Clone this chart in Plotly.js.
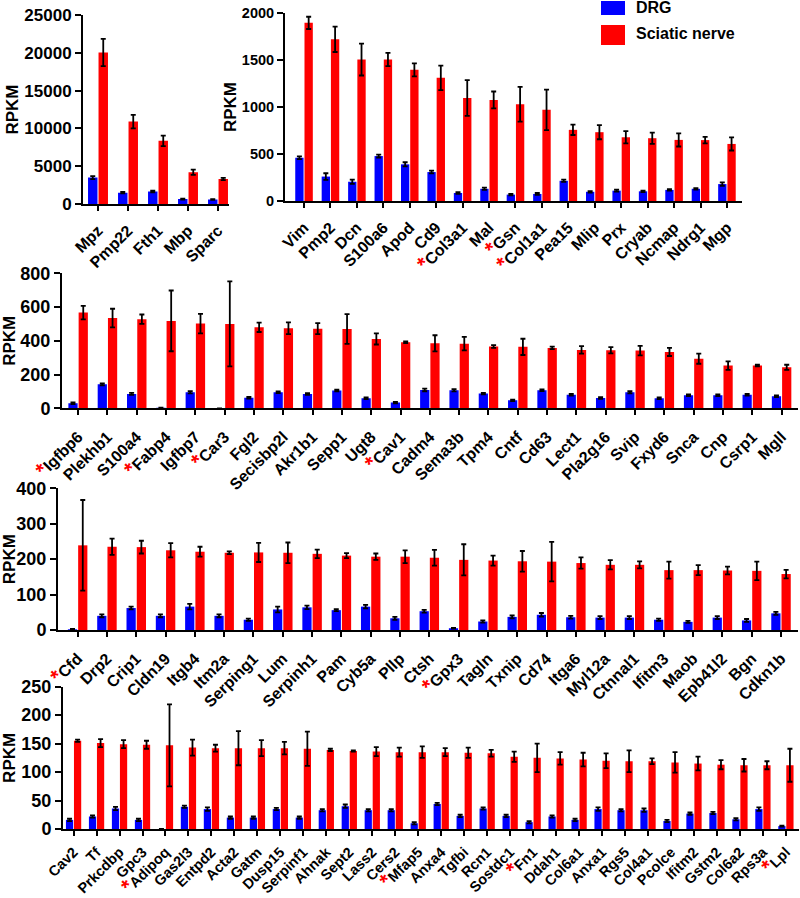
<!DOCTYPE html>
<html><head><meta charset="utf-8">
<script src="https://cdn.plot.ly/plotly-3.0.1.min.js"></script>
<style>html,body{margin:0;padding:0;background:#fff}</style>
</head><body><div id="chart" style="width:800px;height:898px"></div>
<script>
// ---------- data ----------
const seriesNames = ['DRG', 'Sciatic nerve'];
const starred = ['Col3a1','Gsn','Col1a1','Igfbp6','Fabp4','Car3','Cav1','Cfd','Gpx3','Adipoq','Mfap5','Fn1','Lpl'];

const genes1 = ['Mpz','Pmp22','Fth1','Mbp','Sparc'];
const drg1 = [3500, 1500, 1650, 650, 600];
const drgErr1 = [200, 100, 100, 60, 50];
const sn1 = [20050, 10900, 8350, 4200, 3300];
const snErr1 = [1800, 900, 700, 350, 150];

const genes2 = ['Vim','Pmp2','Dcn','S100a6','Apod','Cd9','Col3a1','Mal','Gsn','Col1a1','Pea15','Mlip','Prx','Cryab','Ncmap','Ndrg1','Mgp'];
const drg2 = [460, 260, 205, 478, 390, 308, 85, 130, 68, 75, 215, 98, 110, 103, 118, 130, 180];
const drgErr2 = [15, 35, 22, 15, 22, 15, 10, 12, 8, 10, 12, 8, 10, 8, 8, 8, 18];
const sn2 = [1895, 1720, 1505, 1505, 1395, 1310, 1095, 1075, 1030, 970, 757, 732, 678, 668, 650, 648, 607];
const snErr2 = [65, 135, 170, 70, 70, 130, 190, 90, 185, 215, 55, 75, 65, 60, 70, 35, 70];

const genes3 = ['Igfbp6','Plekhb1','S100a4','Fabp4','Igfbp7','Car3','Fgl2','Secisbp2l','Akr1b1','Sepp1','Ugt8','Cav1','Cadm4','Sema3b','Tpm4','Cntf','Cd63','Lect1','Pla2g16','Svip','Fxyd6','Snca','Cnp','Csrp1','Mgll'];
const drg3 = [30, 142, 85, 3, 95, 0, 63, 95, 85, 105, 59, 34, 109, 107, 87, 47, 107, 81, 61, 95, 59, 77, 77, 81, 71];
const drgErr3 = [5, 6, 6, 1, 7, 0, 5, 5, 5, 5, 5, 4, 8, 7, 5, 4, 5, 5, 5, 6, 5, 5, 5, 5, 5];
const sn3 = [567, 535, 528, 518, 502, 500, 480, 474, 472, 470, 411, 391, 385, 383, 366, 364, 358, 346, 344, 342, 334, 294, 253, 253, 243];
const snErr3 = [40, 55, 28, 180, 58, 252, 28, 35, 33, 88, 33, 5, 48, 40, 8, 48, 7, 22, 18, 28, 24, 30, 25, 5, 15];

const genes4 = ['Cfd','Drp2','Crip1','Cldn19','Itgb4','Itm2a','Serping1','Lum','Serpinh1','Pam','Cyb5a','Pllp','Ctsh','Gpx3','Tagln','Txnip','Cd74','Itga6','Myl12a','Ctnnal1','Ifitm3','Maob','Epb41l2','Bgn','Cdkn1b'];
const drg4 = [2, 40, 62, 40, 66, 40, 29, 58, 64, 56, 66, 33, 53, 5, 24, 37, 43, 36, 35, 35, 29, 23, 35, 27, 47];
const drgErr4 = [1, 4, 4, 4, 8, 4, 3, 8, 5, 3, 5, 4, 4, 1, 3, 4, 5, 4, 4, 4, 3, 3, 4, 4, 4];
const sn4 = [239, 235, 234, 225, 221, 218, 219, 218, 215, 210, 207, 207, 204, 198, 196, 194, 193, 189, 184, 184, 169, 169, 168, 167, 158];
const snErr4 = [128, 23, 18, 20, 14, 4, 27, 29, 12, 7, 9, 18, 22, 44, 14, 29, 56, 16, 13, 10, 24, 14, 11, 26, 12];

const genes5 = ['Cav2','Tf','Prkcdbp','Gpc3','Adipoq','Gas2l3','Entpd2','Acta2','Gatm','Dusp15','Serpinf1','Ahnak','Sept2','Lass2','Cers2','Mfap5','Anxa4','Tgfbi','Rcn1','Sostdc1','Fn1','Ddah1','Col6a1','Anxa1','Rgs5','Col4a1','Pcolce','Ifitm2','Gstm2','Col6a2','Rps3a','Lpl'];
const drg5 = [16, 22, 36, 16, 0, 39, 35, 20, 20, 35, 20, 33, 40, 33, 33, 10, 44, 23, 36, 23, 12, 22, 16, 35, 33, 33, 14, 27, 28, 17, 35, 5];
const drgErr5 = [2, 2, 3, 2, 0, 2, 3, 2, 2, 2, 2, 2, 3, 2, 2, 2, 2, 2, 2, 2, 2, 2, 2, 3, 2, 3, 2, 2, 2, 2, 3, 1];
const sn5 = [155, 151, 149, 148, 147, 143, 142, 142, 142, 142, 141, 139, 137, 136, 135, 135, 135, 134, 133, 127, 125, 124, 122, 120, 119, 119, 117, 115, 113, 112, 112, 112];
const snErr5 = [2, 7, 7, 7, 72, 14, 6, 30, 14, 11, 30, 2, 1, 8, 8, 10, 7, 9, 6, 9, 25, 11, 12, 13, 19, 5, 18, 12, 8, 11, 7, 29];

// ---------- layout helpers ----------
const W = 800, H = 898;
const FAM = 'Liberation Sans, Arial, Helvetica, sans-serif';
const BLUE = '#0000ff', RED = '#ff0000';
const COLORS = [BLUE, RED];

const panels = [
  {g: genes1, d: drg1, de: drgErr1, s: sn1, se: snErr1, px: [83, 228.5], py: [15, 204], xr: [-0.5, 4.35], yr: [0, 25000], dt: 5000, tf: 17, lf: 16, so: 4},
  {g: genes2, d: drg2, de: drgErr2, s: sn2, se: snErr2, px: [285, 742], py: [13, 201], xr: [-0.72, 16.57], yr: [0, 2000], dt: 500, tf: 14.5, lf: 16, so: 4},
  {g: genes3, d: drg3, de: drgErr3, s: sn3, se: snErr3, px: [62, 798], py: [273.3, 408.3], xr: [-0.55, 24.56], yr: [0, 800], dt: 200, tf: 18, lf: 16, so: 6},
  {g: genes4, d: drg4, de: drgErr4, s: sn4, se: snErr4, px: [58, 798], py: [488.3, 630], xr: [-0.67, 24.58], yr: [0, 400], dt: 100, tf: 18, lf: 16, so: 6},
  {g: genes5, d: drg5, de: drgErr5, s: sn5, se: snErr5, px: [63, 799], py: [686.7, 829], xr: [-0.46, 31.57], yr: [0, 250], dt: 50, tf: 18, lf: 14.5, so: 2}
];

function lbl(name) {
  return starred.includes(name)
    ? '<span style="color:#ff0000;font-size:21px">*</span>' + name
    : name;
}

const traces = [];
const layout = {
  width: W, height: H,
  margin: {l: 0, r: 0, t: 0, b: 0},
  paper_bgcolor: '#fff', plot_bgcolor: 'rgba(0,0,0,0)',
  barmode: 'group', bargap: 0.3, bargroupgap: 0.1,
  font: {family: FAM, color: '#000', weight: 'bold'},
  showlegend: false,
  shapes: [], annotations: []
};

// legend key (large colour squares like the reference), drawn in paper space
const legendRows = [{y0: 1, y1: 15, ty: 8}, {y0: 25, y1: 45, ty: 34}];
seriesNames.forEach((nm, k) => {
  const r = legendRows[k];
  layout.shapes.push({type: 'rect', xref: 'paper', yref: 'paper',
    x0: 601 / W, x1: 625 / W, y0: 1 - r.y1 / H, y1: 1 - r.y0 / H,
    fillcolor: COLORS[k], line: {width: 0}});
  layout.annotations.push({xref: 'paper', yref: 'paper', x: 634 / W, y: 1 - r.ty / H,
    xanchor: 'left', yanchor: 'middle', showarrow: false, text: nm,
    font: {size: 16, family: FAM, weight: 'bold', color: '#000'}});
});

panels.forEach((p, i) => {
  const n = i === 0 ? '' : String(i + 1);
  const xa = 'x' + n, ya = 'y' + n;
  const eb = (arr) => ({type: 'data', array: arr, visible: true, color: '#000', thickness: 1.8, width: 2.5});
  traces.push({type: 'bar', name: seriesNames[0], x: p.g, y: p.d, error_y: eb(p.de),
               marker: {color: BLUE}, xaxis: xa, yaxis: ya, hoverinfo: 'skip'});
  traces.push({type: 'bar', name: seriesNames[1], x: p.g, y: p.s, error_y: eb(p.se),
               marker: {color: RED}, xaxis: xa, yaxis: ya, hoverinfo: 'skip'});
  layout['xaxis' + n] = {
    domain: [p.px[0] / W, p.px[1] / W], anchor: ya, type: 'category', range: p.xr,
    tickmode: 'array', tickvals: p.g, ticktext: p.g.map(lbl), tickangle: -45,
    ticks: 'outside', ticklen: 5, tickwidth: 2, tickcolor: '#000', ticklabelstandoff: p.so,
    showline: true, linecolor: '#000', linewidth: 2, showgrid: false, zeroline: false,
    tickfont: {size: p.lf, family: FAM, weight: 'bold', color: '#000'}, automargin: false, fixedrange: true
  };
  layout['yaxis' + n] = {
    domain: [1 - p.py[1] / H, 1 - p.py[0] / H], anchor: xa, range: p.yr, dtick: p.dt, tick0: 0,
    tickformat: 'd', exponentformat: 'none', separatethousands: false,
    ticks: 'outside', ticklen: 6, tickwidth: 2, tickcolor: '#000',
    showline: true, linecolor: '#000', linewidth: 2, showgrid: false, zeroline: false,
    tickfont: {size: p.tf, family: FAM, weight: 'bold', color: '#000'},
    title: {text: 'RPKM', font: {size: 17, family: FAM, weight: 'bold', color: '#000'}},
    automargin: false, fixedrange: true
  };
});

Plotly.newPlot('chart', traces, layout, {staticPlot: true, displayModeBar: false});
</script>
</body></html>
